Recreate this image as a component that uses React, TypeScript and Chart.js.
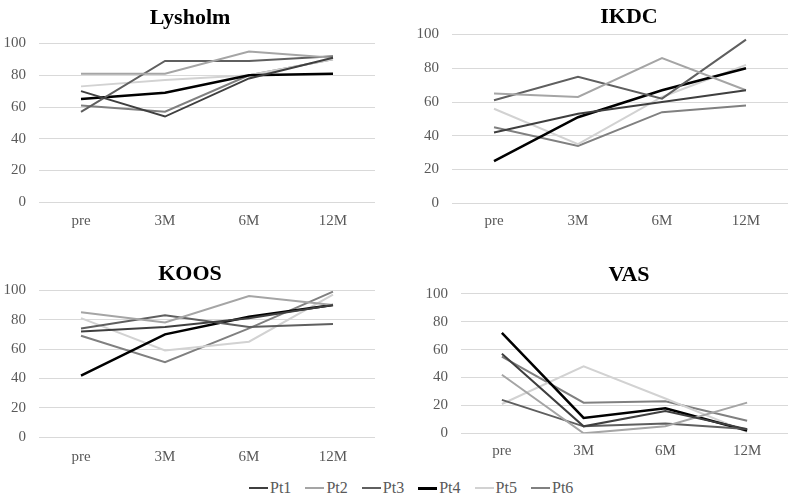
import React, { useEffect, useRef } from 'react';
import { Chart, registerables } from 'chart.js';

Chart.register(...registerables);

const categories = ['pre', '3M', '6M', '12M'];
const seriesNames = ['Pt1', 'Pt2', 'Pt3', 'Pt4', 'Pt5', 'Pt6'];
const seriesColors = ['#3f3f3f', '#a5a5a5', '#5f5f5f', '#000000', '#d2d2d2', '#808080'];
const seriesWidths = [2, 2, 2, 2.5, 2, 2];
const yTickMin = 0;
const yTickMax = 100;
const yTickStep = 20;

// values per patient, in order pre, 3M, 6M, 12M
const lysholmValues = [
  [70, 54, 78, 91],
  [81, 81, 95, 91],
  [57, 89, 89, 92],
  [65, 69, 80, 81],
  [73, 77, 80, 90],
  [61, 57, 80, 90],
];
const ikdcValues = [
  [42, 53, 60, 67],
  [65, 63, 86, 67],
  [61, 75, 62, 97],
  [25, 51, 67, 80],
  [56, 35, 63, 82],
  [45, 34, 54, 58],
];
const koosValues = [
  [72, 75, 81, 90],
  [85, 78, 96, 90],
  [74, 83, 75, 77],
  [42, 70, 82, 90],
  [81, 59, 65, 97],
  [69, 51, 74, 99],
];
const vasValues = [
  [57, 5, 16, 3],
  [42, 0, 5, 22],
  [24, 5, 7, 3],
  [72, 11, 18, 2],
  [21, 48, 25, 1],
  [55, 22, 23, 9],
];

const FONT = '"Liberation Serif", "Times New Roman", serif';

type Spec = {
  title: string;
  values: number[][];
  left: number;
  top: number;
  plotLeft: number;
  plotRight: number;
  plotTop: number;
  plotBottom: number;
  titleCX: number;
  titleCY: number;
  labelCY: number;
};

const panels: Spec[] = [
  { title: 'Lysholm', values: lysholmValues, left: 0, top: 0, plotLeft: 39, plotRight: 375, plotTop: 42.3, plotBottom: 202.3, titleCX: 190, titleCY: 18, labelCY: 220 },
  { title: 'IKDC', values: ikdcValues, left: 396, top: 0, plotLeft: 452, plotRight: 788, plotTop: 33.3, plotBottom: 203.3, titleCX: 629, titleCY: 17, labelCY: 220 },
  { title: 'KOOS', values: koosValues, left: 0, top: 230, plotLeft: 39, plotRight: 375, plotTop: 289, plotBottom: 437.3, titleCX: 190, titleCY: 274, labelCY: 456 },
  { title: 'VAS', values: vasValues, left: 396, top: 230, plotLeft: 461, plotRight: 788, plotTop: 292.7, plotBottom: 433.3, titleCX: 629, titleCY: 275, labelCY: 450 },
];

function Panel({ spec }: { spec: Spec }) {
  const ref = useRef<HTMLCanvasElement | null>(null);
  const W = Math.round(spec.plotRight - spec.left);
  const xPad = Math.max(0, spec.labelCY - spec.plotBottom - 8);
  const xAxisHeight = xPad + 18;
  const H = Math.round(spec.plotBottom - spec.top + xAxisHeight);

  useEffect(() => {
    const canvas = ref.current;
    if (!canvas) return;
    const yAxisWidth = spec.plotLeft - spec.left;
    const tTop = spec.titleCY - spec.top - 12.6;
    const tBottom = spec.plotTop - spec.top - 25.2 - tTop;
    const centerX = spec.titleCX - spec.left;
    const titleShift = {
      id: 'titleShift',
      afterLayout(chart: any) {
        const tb = chart.titleBlock;
        if (!tb) return;
        const cur = (tb.left + tb.right) / 2;
        const d = centerX - cur;
        tb.left += d;
        tb.right += d;
      },
    };
    const chart = new Chart(canvas, {
      type: 'line',
      data: {
        labels: categories,
        datasets: seriesNames.map((name, i) => ({
          label: name,
          data: spec.values[i],
          borderColor: seriesColors[i],
          backgroundColor: seriesColors[i],
          borderWidth: seriesWidths[i],
          pointRadius: 0,
          pointHoverRadius: 0,
          tension: 0,
          fill: false,
        })),
      },
      options: {
        responsive: false,
        animation: false,
        maintainAspectRatio: false,
        layout: { padding: 0 },
        plugins: {
          legend: { display: false },
          tooltip: { enabled: false },
          title: {
            display: true,
            text: spec.title,
            color: '#000000',
            font: { family: FONT, size: 22, weight: 'bold', lineHeight: 1.2 },
            padding: { top: tTop, bottom: tBottom },
          },
        },
        scales: {
          x: {
            type: 'category',
            offset: true,
            grid: { display: false, drawTicks: false },
            border: { display: false },
            ticks: {
              color: '#595959',
              font: { family: FONT, size: 15, lineHeight: 1.2 },
              padding: xPad,
              maxRotation: 0,
              autoSkip: false,
            },
            afterFit: (scale: any) => {
              scale.height = xAxisHeight;
            },
          },
          y: {
            min: yTickMin,
            max: yTickMax,
            grid: { color: '#d9d9d9', lineWidth: 1, drawTicks: false },
            border: { display: false },
            ticks: {
              stepSize: yTickStep,
              color: '#595959',
              font: { family: FONT, size: 15, lineHeight: 1.2 },
              padding: 13,
            },
            afterFit: (scale: any) => {
              scale.width = yAxisWidth;
            },
          },
        },
      },
      plugins: [titleShift],
    } as any);
    return () => chart.destroy();
  }, []);

  return (
    <canvas
      ref={ref}
      width={W}
      height={H}
      style={{ position: 'absolute', left: spec.left, top: spec.top, width: W, height: H }}
    />
  );
}

function Legend() {
  return (
    <div style={{ position: 'absolute', left: 0, top: 476, width: 792, height: 24 }}>
      {seriesNames.map((name, i) => (
        <div
          key={name}
          style={{
            position: 'absolute',
            left: 249 + i * 56.4,
            top: 0,
            height: 24,
            display: 'flex',
            alignItems: 'center',
            whiteSpace: 'nowrap',
          }}
        >
          <span
            style={{
              display: 'inline-block',
              width: 19,
              height: seriesWidths[i] + 0.5,
              background: seriesColors[i],
              marginRight: 2,
            }}
          />
          <span style={{ fontFamily: FONT, fontSize: 16, color: '#595959', lineHeight: '24px' }}>{name}</span>
        </div>
      ))}
    </div>
  );
}

export default function App() {
  return (
    <div style={{ position: 'absolute', left: 0, top: 0, width: 792, height: 498, background: '#ffffff', overflow: 'hidden' }}>
      {panels.map((p) => (
        <Panel key={p.title} spec={p} />
      ))}
      <Legend />
    </div>
  );
}
